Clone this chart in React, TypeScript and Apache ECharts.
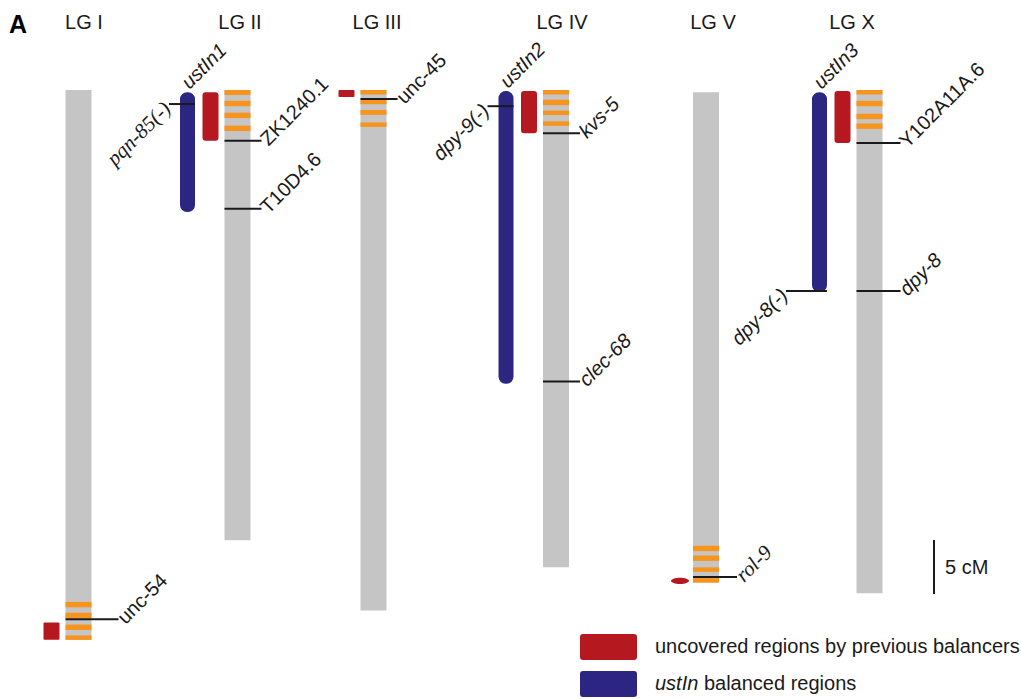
import React, { useEffect, useRef } from 'react';
import * as echarts from 'echarts';

// ---------- DATA (positions along chromosomes in cM) ----------
const chromosomes = ['LG I', 'LG II', 'LG III', 'LG IV', 'LG V', 'LG X'];
const chromStart = [0, 0, 0, 0, 0.2, 0];
const chromEnd = [50.9, 41.7, 48.2, 44.2, 45.6, 46.6];

// orange bands (start, end) per chromosome
const orangeBands: number[][][] = [
  [[47.4, 47.9], [48.4, 48.9], [49.5, 50.0], [50.5, 50.9]],
  [[0, 0.46], [1.0, 1.5], [2.1, 2.6], [3.3, 3.8]],
  [[0, 0.37], [0.9, 1.3], [1.85, 2.3], [3.0, 3.4]],
  [[0, 0.4], [0.9, 1.4], [1.9, 2.3], [2.9, 3.3]],
  [[42.2, 42.7], [43.1, 43.6], [44.2, 44.6], [45.2, 45.6]],
  [[0, 0.4], [1.0, 1.5], [2.2, 2.7], [3.1, 3.6]],
];

// gene markers on chromosomes
const markerChrom = ['LG I', 'LG II', 'LG II', 'LG III', 'LG IV', 'LG IV', 'LG V', 'LG X', 'LG X'];
const markerName = ['unc-54', 'ZK1240.1', 'T10D4.6', 'unc-45', 'kvs-5', 'clec-68', 'rol-9', 'Y102A11A.6', 'dpy-8'];
const markerPos = [49.0, 4.7, 11.0, 0.83, 4.0, 27.0, 45.1, 4.9, 18.6];

// breakpoint markers on balancers
const breakChrom = ['LG II', 'LG IV', 'LG X'];
const breakName = ['pqn-85(-)', 'dpy-9(-)', 'dpy-8(-)'];
const breakPos = [1.3, 1.5, 18.6];

// uncovered regions by previous balancers
const redChrom = ['LG I', 'LG II', 'LG III', 'LG IV', 'LG V', 'LG X'];
const redFrom = [49.3, 0.2, 0, 0.1, 45.2, 0.1];
const redTo = [50.9, 4.7, 0.65, 4.0, 45.7, 4.9];

// ustIn balanced regions
const blueChrom = ['LG II', 'LG IV', 'LG X'];
const blueName = ['ustIn1', 'ustIn2', 'ustIn3'];
const blueFrom = [0.2, 0.1, 0.2];
const blueTo = [11.3, 27.2, 18.7];

// scale bar
const scaleFrom = 41.67;
const scaleLength = 5;
const scaleLabel = '5 cM';

// ---------- LAYOUT / STYLE ----------
const chromX = [78.5, 237.5, 373.5, 556, 706, 869.5];
const labelDx = [5.5, 2.5, 3.5, 6, 7, -17.5];
const tails: Record<string, number> = { 'unc-54': 27, 'Y102A11A.6': 18, 'dpy-8': 18, 'rol-9': 18, 'dpy-8(-)': 26 };
const serifItalic = ['pqn-85(-)', 'rol-9'];
const sansItalic = ['dpy-9(-)', 'kvs-5', 'clec-68', 'dpy-8(-)', 'dpy-8'];
const ellipseRed = ['LG V'];

const GRAY = '#c5c5c5';
const ORANGE = '#f7941d';
const RED = '#b5191f';
const BLUE = '#2c2682';
const INK = '#1a1a1a';
const SANS = '"Liberation Sans", Arial, Helvetica, sans-serif';
const SERIF = '"Liberation Serif", "Times New Roman", serif';
const FS = 20;
const GRAY_W = 26;
const RED_W = 16;
const BLUE_W = 15;
const RED_DX = -27;
const BLUE_DX = -50;

function xOf(name: string) {
  return chromX[chromosomes.indexOf(name)];
}

function labelStyle(name: string, size: number) {
  if (serifItalic.includes(name)) {
    return { fontFamily: SERIF, fontStyle: 'italic', fontSize: size + 1 };
  }
  return { fontFamily: SANS, fontStyle: sansItalic.includes(name) ? 'italic' : 'normal', fontSize: size };
}

export default function App() {
  const ref = useRef<HTMLDivElement>(null);

  useEffect(() => {
    document.body.style.margin = '0';
    if (!ref.current) return;
    const chart = echarts.init(ref.current, undefined, { renderer: 'svg' });

    const option: any = {
      animation: false,
      backgroundColor: '#ffffff',
      grid: { left: 0, right: 0, top: 3.6, bottom: 4.2 },
      xAxis: { type: 'value', min: 0, max: 1021, show: false },
      yAxis: { type: 'value', min: -8, max: 56, inverse: true, show: false },
      graphic: [
        {
          type: 'text', left: 9, top: 11,
          style: { text: 'A', fontFamily: SANS, fontWeight: 'bold', fontSize: 25, fill: '#000' },
        },
        {
          type: 'rect', left: 580, top: 634, shape: { width: 57, height: 26, r: 3 },
          style: { fill: RED },
        },
        {
          type: 'rect', left: 580, top: 671, shape: { width: 57, height: 26, r: 3 },
          style: { fill: BLUE },
        },
        {
          type: 'text', left: 655, top: 636,
          style: { text: 'uncovered regions by previous balancers', fontFamily: SANS, fontSize: FS, fill: INK },
        },
        {
          type: 'text', left: 655, top: 673,
          style: {
            text: '{i|ustIn} balanced regions', fontFamily: SANS, fontSize: FS, fill: INK,
            rich: { i: { fontFamily: SANS, fontStyle: 'italic', fontSize: FS, fill: INK } },
          },
        },
      ],
      series: [
        // chromosomes with orange bands and titles
        {
          type: 'custom',
          data: chromosomes.map((c, i) => [chromX[i], chromStart[i], chromEnd[i]]),
          renderItem: (params: any, api: any) => {
            const i = params.dataIndex;
            const top = api.coord([api.value(0), api.value(1)]);
            const bot = api.coord([api.value(0), api.value(2)]);
            const cx = top[0];
            const children: any[] = [
              {
                type: 'rect',
                shape: { x: cx - GRAY_W / 2, y: top[1], width: GRAY_W, height: bot[1] - top[1] },
                style: { fill: GRAY },
              },
            ];
            orangeBands[i].forEach((b) => {
              const a = api.coord([api.value(0), b[0]]);
              const z = api.coord([api.value(0), b[1]]);
              children.push({
                type: 'rect',
                shape: { x: cx - GRAY_W / 2, y: a[1], width: GRAY_W, height: Math.max(z[1] - a[1], 4.5) },
                style: { fill: ORANGE },
              });
            });
            children.push({
              type: 'text',
              x: cx + labelDx[i], y: 22,
              style: {
                text: chromosomes[i], fontFamily: SANS, fontSize: FS, fill: INK,
                align: 'center', verticalAlign: 'middle',
              },
            });
            return { type: 'group', children };
          },
        },
        // red regions
        {
          type: 'custom',
          data: redChrom.map((c, i) => [xOf(c), redFrom[i], redTo[i]]),
          renderItem: (params: any, api: any) => {
            const i = params.dataIndex;
            const a = api.coord([api.value(0), api.value(1)]);
            const z = api.coord([api.value(0), api.value(2)]);
            const cx = a[0] + RED_DX;
            const h = z[1] - a[1];
            if (ellipseRed.includes(redChrom[i])) {
              return {
                type: 'ellipse',
                shape: { cx: cx + 1, cy: (a[1] + z[1]) / 2, rx: 9, ry: 3.2 },
                style: { fill: RED },
              };
            }
            return {
              type: 'rect',
              shape: { x: cx - RED_W / 2, y: a[1], width: RED_W, height: h, r: h > 20 ? 3 : 1 },
              style: { fill: RED },
            };
          },
        },
        // blue balancer regions
        {
          type: 'custom',
          data: blueChrom.map((c, i) => [xOf(c), blueFrom[i], blueTo[i]]),
          renderItem: (params: any, api: any) => {
            const i = params.dataIndex;
            const a = api.coord([api.value(0), api.value(1)]);
            const z = api.coord([api.value(0), api.value(2)]);
            const cx = a[0] + BLUE_DX;
            return {
              type: 'group',
              children: [
                {
                  type: 'rect',
                  shape: { x: cx - BLUE_W / 2, y: a[1], width: BLUE_W, height: z[1] - a[1], r: 7 },
                  style: { fill: BLUE },
                },
                {
                  type: 'text',
                  x: cx - 3, y: a[1] - 7, rotation: Math.PI / 4,
                  style: {
                    text: blueName[i], fontFamily: SANS, fontStyle: 'italic', fontSize: FS, fill: INK,
                    align: 'left', verticalAlign: 'middle',
                  },
                },
              ],
            };
          },
        },
        // gene markers on chromosomes
        {
          type: 'custom',
          data: markerChrom.map((c, i) => [xOf(c), markerPos[i]]),
          renderItem: (params: any, api: any) => {
            const i = params.dataIndex;
            const p = api.coord([api.value(0), api.value(1)]);
            const name = markerName[i];
            const x0 = p[0] - GRAY_W / 2;
            const x1 = p[0] + GRAY_W / 2 + (tails[name] ?? 11);
            return {
              type: 'group',
              children: [
                { type: 'line', shape: { x1: x0, y1: p[1], x2: x1, y2: p[1] }, style: { stroke: INK, lineWidth: 2 } },
                {
                  type: 'text', x: x1 + 2, y: p[1] + 1, rotation: Math.PI / 4,
                  style: {
                    text: name, fill: INK, align: 'left', verticalAlign: 'middle',
                    ...labelStyle(name, FS),
                  },
                },
              ],
            };
          },
        },
        // breakpoint markers on balancers
        {
          type: 'custom',
          data: breakChrom.map((c, i) => [xOf(c), breakPos[i]]),
          renderItem: (params: any, api: any) => {
            const i = params.dataIndex;
            const p = api.coord([api.value(0), api.value(1)]);
            const name = breakName[i];
            const cx = p[0] + BLUE_DX;
            const x1 = cx + BLUE_W / 2;
            const x0 = cx - BLUE_W / 2 - (tails[name] ?? 11);
            return {
              type: 'group',
              children: [
                { type: 'line', shape: { x1: x0, y1: p[1], x2: x1, y2: p[1] }, style: { stroke: INK, lineWidth: 2 } },
                {
                  type: 'text', x: x0 - 2, y: p[1] + 1, rotation: Math.PI / 4,
                  style: {
                    text: name, fill: INK, align: 'right', verticalAlign: 'middle',
                    ...labelStyle(name, FS),
                  },
                },
              ],
            };
          },
        },
        // scale bar
        {
          type: 'custom',
          data: [[934, scaleFrom, scaleFrom + scaleLength]],
          renderItem: (params: any, api: any) => {
            const a = api.coord([api.value(0), api.value(1)]);
            const z = api.coord([api.value(0), api.value(2)]);
            return {
              type: 'group',
              children: [
                { type: 'line', shape: { x1: a[0], y1: a[1], x2: z[0], y2: z[1] }, style: { stroke: INK, lineWidth: 2 } },
                {
                  type: 'text', x: a[0] + 11, y: (a[1] + z[1]) / 2,
                  style: { text: scaleLabel, fontFamily: SANS, fontSize: FS, fill: INK, align: 'left', verticalAlign: 'middle' },
                },
              ],
            };
          },
        },
      ],
    };

    chart.setOption(option);
    return () => chart.dispose();
  }, []);

  return <div ref={ref} style={{ width: 1021, height: 699 }} />;
}
